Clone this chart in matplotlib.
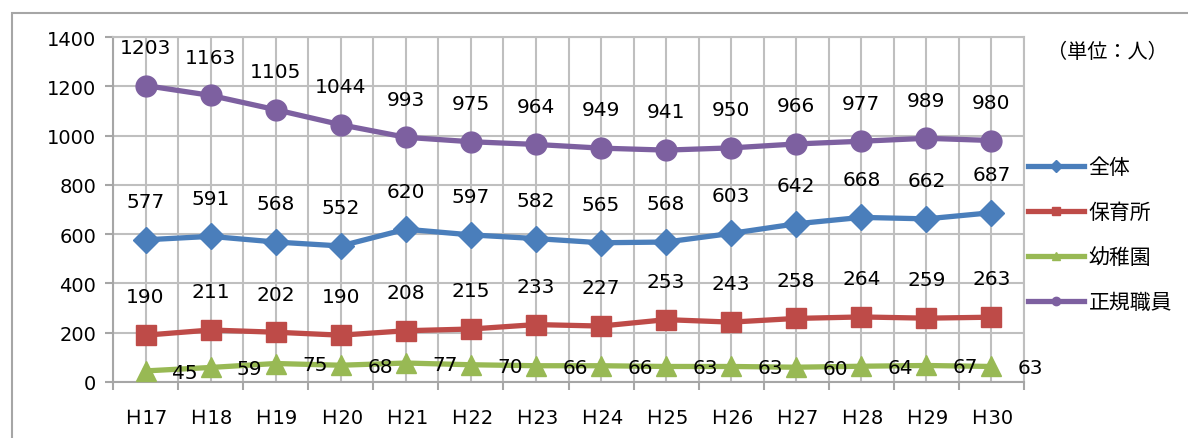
import matplotlib.pyplot as plt
from matplotlib.patches import Rectangle
from matplotlib.lines import Line2D

plt.rcParams['font.family'] = ['DejaVu Sans', 'Noto Sans CJK JP']

years = ["Ｈ17", "Ｈ18", "Ｈ19", "Ｈ20", "Ｈ21", "Ｈ22", "Ｈ23",
         "Ｈ24", "Ｈ25", "Ｈ26", "Ｈ27", "Ｈ28", "Ｈ29", "Ｈ30"]
zentai = [577, 591, 568, 552, 620, 597, 582, 565, 568, 603, 642, 668, 662, 687]
hoikusho = [190, 211, 202, 190, 208, 215, 233, 227, 253, 243, 258, 264, 259, 263]
youchien = [45, 59, 75, 68, 77, 70, 66, 66, 63, 63, 60, 64, 67, 63]
seiki = [1203, 1163, 1105, 1044, 993, 975, 964, 949, 941, 950, 966, 977, 989, 980]

fig = plt.figure(figsize=(11.88, 4.39), dpi=100)
ax = fig.add_axes([113 / 1188, 1 - 383 / 439, (1024 - 113) / 1188, (383 - 38) / 439])

# chart area frame, runs off the right and bottom edges
fig.patches.append(Rectangle((12 / 1188, -0.1), 1.2, 1 - 14 / 439 + 0.1,
                             transform=fig.transFigure, fill=False,
                             edgecolor='#a6a6a6', linewidth=1.5))

x = list(range(len(years)))
series = [
    ("全体", zentai, '#4a7ebb', 'D', 13),
    ("保育所", hoikusho, '#be4b48', 's', 14),
    ("幼稚園", youchien, '#98b954', '^', 15),
    ("正規職員", seiki, '#7d60a0', 'o', 15),
]
for name, vals, col, mk, ms in series:
    ax.plot(x, vals, color=col, linewidth=3.8, marker=mk, markersize=ms,
            label=name, zorder=3, clip_on=False)

# value labels: above the point, except 幼稚園 which sits to the right
for vals in (seiki, zentai, hoikusho):
    for i, v in enumerate(vals):
        ax.annotate(str(v), (i, v), xytext=(0, 27.5), textcoords='offset points',
                    ha='center', va='center', fontsize=14.5)
for i, v in enumerate(youchien):
    ax.annotate(str(v), (i, v), xytext=(19, -1), textcoords='offset points',
                ha='left', va='center', fontsize=14.5)

ax.set_xlim(-0.5, len(years) - 0.5)
ax.set_ylim(0, 1400)
ax.set_yticks(range(0, 1401, 200))
ax.set_xticks(x)
ax.set_xticklabels(years)
ax.set_xticks([i - 0.5 for i in range(len(years) + 1)], minor=True)
ax.tick_params(axis='x', which='major', length=0, pad=19, labelsize=14)
ax.tick_params(axis='x', which='minor', length=6, width=1.5, color='#a6a6a6')
ax.tick_params(axis='y', length=6, width=1.5, color='#a6a6a6', pad=6, labelsize=14)
ax.grid(True, which='both', axis='x', color='#bfbfbf', linewidth=1.5)
ax.grid(True, which='major', axis='y', color='#bfbfbf', linewidth=1.5)
ax.set_axisbelow(True)
for s in ax.spines.values():
    s.set_color('#a6a6a6')
    s.set_linewidth(1.5)
ax.spines['top'].set_color('#bfbfbf')
ax.spines['right'].set_color('#bfbfbf')

fig.text(1107 / 1188, 1 - 52 / 439, "（単位：人）", fontsize=14.5, ha='center', va='center')

handles = [Line2D([], [], color=c, linewidth=3.8, marker=m, markersize=6)
           for _, _, c, m, _ in series]
fig.legend(handles, [s[0] for s in series], loc='upper left',
           bbox_to_anchor=(1020 / 1188, 1 - 150 / 439), frameon=False,
           fontsize=15, handlelength=2.65, handletextpad=0.24, labelspacing=1.2,
           borderaxespad=0)

fig.savefig("out.png", dpi=100)
